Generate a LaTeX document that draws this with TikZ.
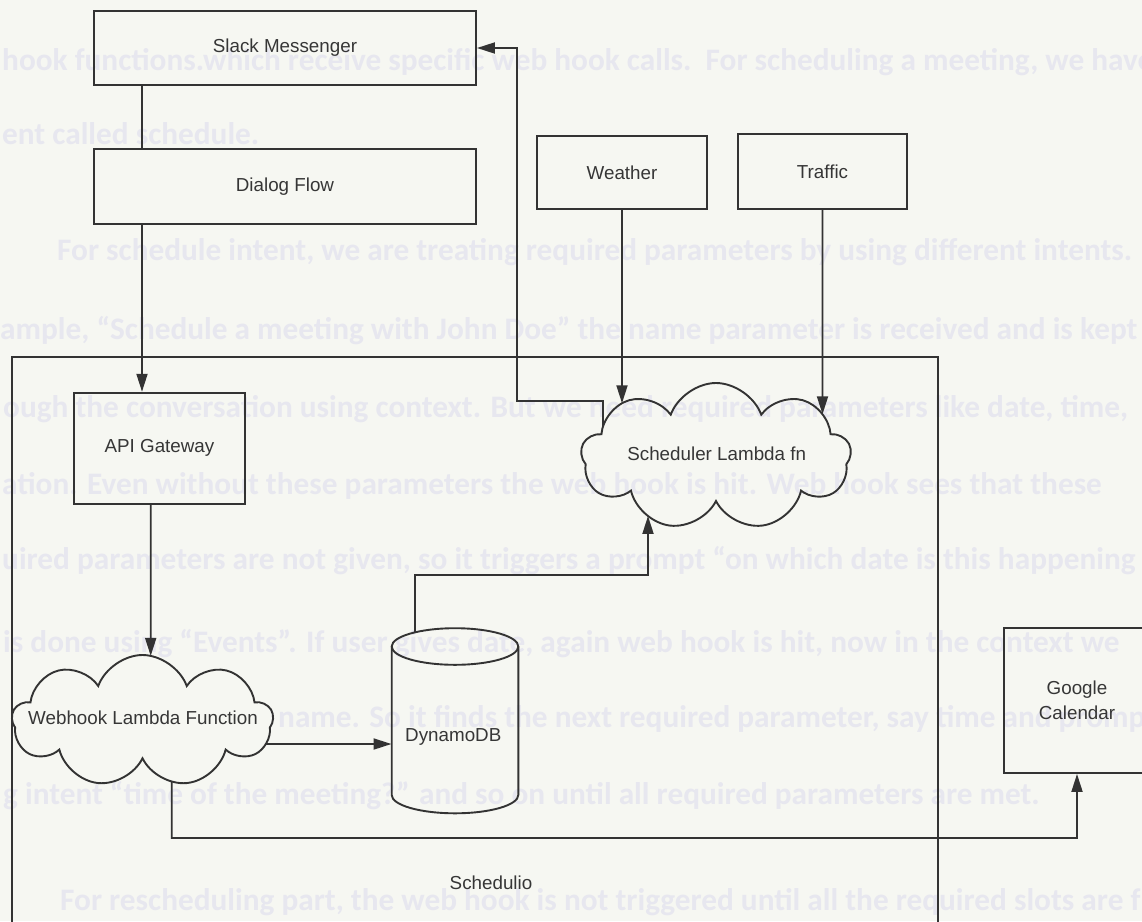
\documentclass[tikz,border=0pt]{standalone}
\usepackage{fontspec}
\setmainfont{Liberation Sans}
\newfontfamily\bgfont{Carlito}
\usetikzlibrary{arrows.meta,shapes.symbols,intersections,calc}
\definecolor{paper}{HTML}{F6F7F2}
\definecolor{ink}{HTML}{333333}
\definecolor{inktext}{HTML}{363636}
\definecolor{ghost}{HTML}{E7E7EF}
\begin{document}
\begin{tikzpicture}[x=1pt,y=-1pt,
  boxnode/.style={draw=ink, line width=1.9pt, inner sep=0pt, font=\fontsize{18.8}{25}\selectfont, text=inktext},
  lbl/.style={font=\fontsize{18.8}{25}\selectfont, text=inktext, inner sep=0pt},
  conn/.style={draw=ink, line width=1.9pt},
  arr/.style={conn, -{Triangle[length=18pt,width=11pt]}},
  puff/.style={cloud, cloud puffs=9, cloud puff arc=140, cloud ignores aspect, draw=ink, line width=1.9pt, inner sep=0pt},
  ghosttext/.style={font=\bgfont\bfseries\fontsize{31.3}{34}\selectfont, text=ghost, anchor=base west, inner sep=0pt}]
\useasboundingbox (0,0) rectangle (1142,921);
\fill[paper] (0,0) rectangle (1142,921);

% faint background paragraph
\node[ghosttext] (g1) at (2,70.5) {hook functions.which receive specific web hook calls.\ \ For scheduling a meeting, we have};
\node[ghosttext] (g2) at (2,144.5) {ent called schedule.};
\node[ghosttext] (g3) at (57,260.5) {For schedule intent, we are treating required parameters by using different intents.};
\node[ghosttext] (g4) at (0,339.5) {ample, “Schedule a meeting with John Doe” the name parameter is received and is kept};
\node[ghosttext] (g5) at (3,417.5) {ough the conversation using context. But we need required parameters like date, time,};
\node[ghosttext] (g6) at (2,494.5) {ation. Even without these parameters the web hook is hit. Web hook sees that these};
\node[ghosttext] (g7) at (2,569.5) {uired parameters are not given, so it triggers a prompt “on which date is this happening};
\node[ghosttext] (g8) at (3,652.5) {is done using “Events”. If user gives date, again web hook is hit, now in the context we};
\node[ghosttext] (g9) at (278,727.5) {name. So it finds the next required parameter, say time and prompts};
\node[ghosttext] (g10) at (3,804.5) {g intent “time of the meeting?” and so on until all required parameters are met.};
\node[ghosttext] (g11) at (60,910.5) {For rescheduling part, the web hook is not triggered until all the required slots are f};

% container
\node[draw=ink, line width=1.9pt, minimum width=926.6pt, minimum height=643.3pt, inner sep=0pt] (container) at (475,678.35) {};
\node[lbl] (schedulio) at (491,883) {Schedulio};

% boxes
\node[boxnode, minimum width=382pt, minimum height=74pt] (slack) at (285,48) {Slack Messenger};
\node[boxnode, minimum width=382pt, minimum height=75pt] (dialog) at (285,186.5) {Dialog Flow};
\node[boxnode, minimum width=170pt, minimum height=73pt] (weather) at (622,172.5) {Weather};
\node[boxnode, minimum width=169pt, minimum height=75pt] (traffic) at (822.5,171.5) {Traffic};
\node[boxnode, minimum width=171pt, minimum height=111.3pt] (api) at (159.5,448.35) {API Gateway};
\node[boxnode, minimum width=146pt, minimum height=145.3pt, align=center] (google) at (1077,700.35) {Google\\Calendar};

% clouds
\node[puff, minimum width=270pt, minimum height=147pt, name path=schedP] (sched) at (716,456.5) {};
\node[lbl] (schedT) at (716.7,453.3) {Scheduler Lambda fn};
\node[puff, minimum width=261pt, minimum height=132pt, name path=webP] (webhook) at (142.5,721) {};
\node[lbl] (webhookT) at (143,718) {Webhook Lambda Function};

% cylinder
\node[minimum width=126.6pt, minimum height=185pt, inner sep=0pt] (dynamo) at (455,721) {};
\draw[conn, name path=dynP] (455,646.5) ellipse [x radius=63.3pt, y radius=18.3pt];
\draw[conn] (391.7,646.5) -- (391.7,795) arc[start angle=180, end angle=360, x radius=63.3pt, y radius=18.3pt] -- (518.3,646.5);
\node[lbl] (dynamoT) at (453.3,736.7) {DynamoDB};

% helper coordinates
\coordinate (sdx) at (142,0);
\coordinate (avx) at (150.7,0);
\coordinate (wbx) at (171.7,0);
\coordinate (fb1) at (603,401);
\coordinate (fb2) at (517,401);
\coordinate (gturn) at (1077,838);
\coordinate (dy1) at (415,575);
\coordinate (dy2) at (648,575);

% intersection probes
\path[name path=pA] (150.7,504) -- (150.7,721);
\path[name intersections={of=webP and pA, by=aW}];
\path[name path=pB] (171.7,721) -- (171.7,860);
\path[name intersections={of=webP and pB, by=wB}];
\path[name path=pC] (142.5,744) -- (330,744);
\path[name intersections={of=webP and pC, by=wR}];
\path[name path=pD] (622,300) -- (622,456.5);
\path[name intersections={of=schedP and pD, by=wS}];
\path[name path=pE] (822.5,300) -- (822.5,456.5);
\path[name intersections={of=schedP and pE, by=tS}];
\path[name path=pF] (603,390) -- (603,456.5);
\path[name intersections={of=schedP and pF, by=fbS}];
\path[name path=pG] (648,456.5) -- (648,575);
\path[name intersections={of=schedP and pG, by=dS}];
\path[name path=pH] (415,575) -- (415,646.5);
\path[name intersections={of=dynP and pH, by=dTop}];

% connectors
\draw[conn] (slack.south -| sdx) -- (dialog.north -| sdx);
\draw[arr] (dialog.south -| sdx) -- (api.north -| sdx);
\draw[arr] (api.south -| avx) -- (aW);
\draw[arr] (wR) -- (dynamo.west |- wR);
\draw[arr] (wB) -- (gturn -| wbx) -- (gturn) -- (google.south);
\draw[arr] (dTop) -- (dy1) -- (dy2) -- (dS);
\draw[arr] (fbS) -- (fb1) -- (fb2) -- (slack.east -| fb2) -- (slack.east);
\draw[arr] (weather.south) -- (wS);
\draw[arr] (traffic.south) -- (tS);
\end{tikzpicture}
\end{document}
